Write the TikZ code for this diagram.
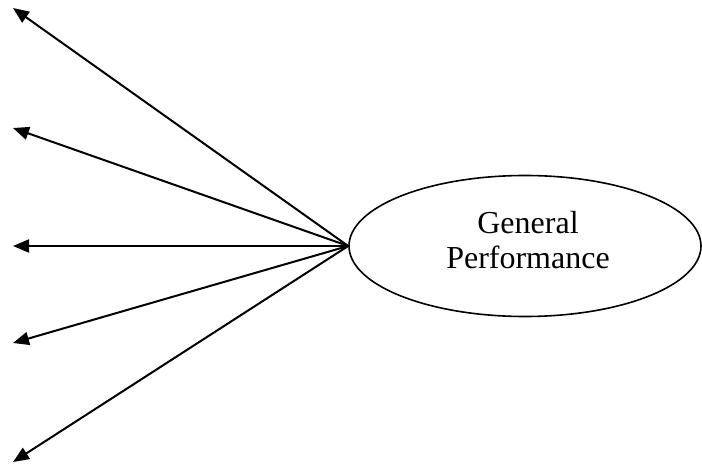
\documentclass[tikz,border=0pt]{standalone}
\usepackage{fontspec}
\setmainfont{Liberation Serif}
\usetikzlibrary{shapes.geometric,arrows.meta}
\begin{document}
\begin{tikzpicture}[x=1pt,y=1pt,
  link/.style={line width=2pt,-{Triangle[length=16pt,width=13pt]}},
  oval/.style={ellipse,draw,line width=1.6pt,minimum width=352pt,minimum height=141pt,inner sep=0pt},
  lbl/.style={align=center,inner sep=0pt,font=\fontsize{32}{35}\selectfont}]
\useasboundingbox (0,0) rectangle (702,467);
\node[oval] (g) at (525,221) {};
\node[lbl] (gt) at (528,227) {General\\Performance};
\coordinate (t1) at (13,459);
\coordinate (t2) at (13,339);
\coordinate (t3) at (13,221);
\coordinate (t4) at (13,124);
\coordinate (t5) at (13,5);
\foreach \i in {1,...,5} {\draw[link] (g.west) -- (t\i);}
\end{tikzpicture}
\end{document}
